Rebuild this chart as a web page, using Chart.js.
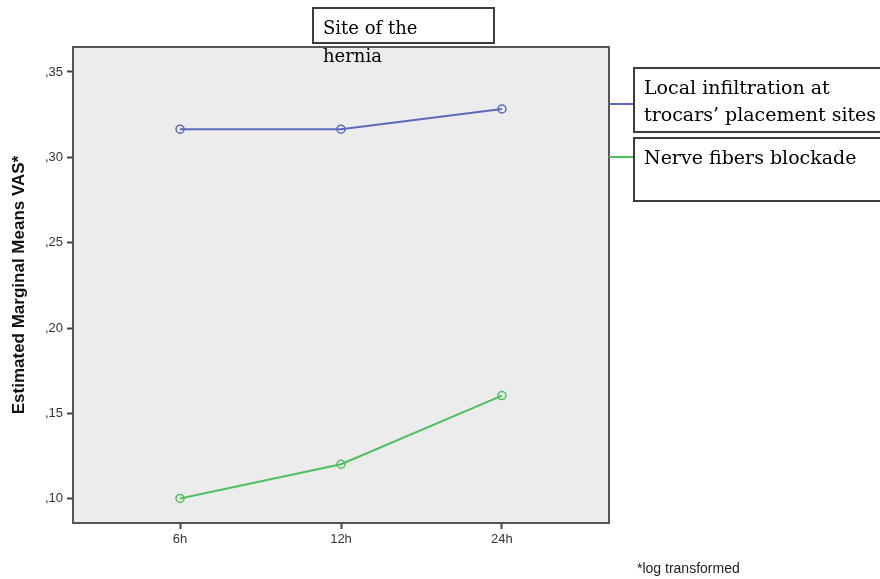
<!DOCTYPE html>
<html lang="en">
<head>
    <meta charset="UTF-8">
    <title>Estimated Marginal Means VAS</title>
    <script src="https://cdn.jsdelivr.net/npm/chart.js"></script>
    <style>
        body { margin: 0; background: #ffffff; }
        .wrap { position: relative; width: 880px; height: 579px; }
        .box {
            position: absolute;
            background: #ffffff;
            border: 2px solid #3c3c3c;
            box-sizing: border-box;
            font-family: "DejaVu Serif", "Liberation Serif", serif;
            font-size: 19px;
            line-height: 27px;
            color: #000;
        }
        .swatch { position: absolute; height: 2px; }
        .note {
            position: absolute;
            font-family: "Liberation Sans", Arial, sans-serif;
            font-size: 14px;
            color: #222;
        }
    </style>
</head>
<body>
<div class="wrap">
    <canvas id="vasChart" width="880" height="579"></canvas>

    <!-- title box, text runs out below the box like in the original -->
    <div class="box" style="left:312px; top:7px; width:183px; height:37px; padding:5px 0 0 9px; font-size:18px; line-height:28px; overflow:visible;">
        <span id="titleText"></span>
    </div>

    <!-- legend -->
    <div class="swatch" id="sw0" style="left:609px; top:103px; width:25px;"></div>
    <div class="swatch" id="sw1" style="left:609px; top:156px; width:25px;"></div>
    <div class="box" id="lg0" style="left:633px; top:67px; width:260px; height:66px; padding:5px 0 0 9px;"></div>
    <div class="box" id="lg1" style="left:633px; top:137px; width:260px; height:65px; padding:5px 0 0 9px;"></div>

    <div class="note" style="left:637px; top:560px;">*log transformed</div>
</div>

<script>
    // data
    const timeLabels = ['6h', '12h', '24h'];
    const seriesNames = ['Local infiltration at<br>trocars\u2019 placement sites', 'Nerve fibers blockade'];
    const localInfiltration = [0.3165, 0.3165, 0.3283];
    const nerveBlockade = [0.1003, 0.1203, 0.1605];
    const yTicks = [0.10, 0.15, 0.20, 0.25, 0.30, 0.35];
    const seriesColors = ['#5a69bd', '#4fbf5f'];

    document.getElementById('titleText').innerHTML = 'Site of the<br>hernia';
    document.getElementById('lg0').innerHTML = seriesNames[0];
    document.getElementById('lg1').innerHTML = seriesNames[1];
    document.getElementById('sw0').style.background = seriesColors[0];
    document.getElementById('sw1').style.background = seriesColors[1];

    function toPoints(vals) {
        return vals.map((v, i) => ({ x: i + 1, y: v }));
    }

    // grey plot background and frame
    const plotFrame = {
        id: 'plotFrame',
        beforeDatasetsDraw(chart) {
            const a = chart.chartArea;
            const ctx = chart.ctx;
            ctx.save();
            ctx.fillStyle = '#ececec';
            ctx.fillRect(a.left, a.top, a.right - a.left, a.bottom - a.top);
            ctx.restore();
        },
        afterDatasetsDraw(chart) {
            const a = chart.chartArea;
            const ctx = chart.ctx;
            ctx.save();
            ctx.strokeStyle = '#555';
            ctx.lineWidth = 2;
            ctx.strokeRect(a.left, a.top, a.right - a.left, a.bottom - a.top);
            ctx.restore();
        }
    };

    const tickFont = { family: '"Liberation Sans", Arial, sans-serif', size: 13 };

    new Chart(document.getElementById('vasChart'), {
        type: 'line',
        data: {
            datasets: [{
                label: 'Local infiltration',
                data: toPoints(localInfiltration),
                borderColor: seriesColors[0],
                backgroundColor: 'rgba(0,0,0,0)',
                borderWidth: 2,
                pointRadius: 4,
                pointBorderWidth: 1.5,
                pointBackgroundColor: 'rgba(0,0,0,0)',
                tension: 0
            }, {
                label: 'Nerve fibers blockade',
                data: toPoints(nerveBlockade),
                borderColor: seriesColors[1],
                backgroundColor: 'rgba(0,0,0,0)',
                borderWidth: 2,
                pointRadius: 4,
                pointBorderWidth: 1.5,
                pointBackgroundColor: 'rgba(0,0,0,0)',
                tension: 0
            }]
        },
        options: {
            responsive: false,
            animation: false,
            layout: { padding: { top: 47, right: 271, left: 0, bottom: 0 } },
            plugins: {
                legend: { display: false },
                tooltip: { enabled: false }
            },
            scales: {
                x: {
                    type: 'linear',
                    min: 0.335,
                    max: 3.665,
                    afterBuildTicks: s => { s.ticks = timeLabels.map((t, i) => ({ value: i + 1 })); },
                    afterFit: s => { s.height = 56; },
                    grid: { drawOnChartArea: false, tickLength: 6, tickColor: '#444', tickWidth: 2 },
                    border: { display: false },
                    ticks: {
                        color: '#333',
                        font: tickFont,
                        padding: 3,
                        callback: v => timeLabels[Math.round(v) - 1]
                    }
                },
                y: {
                    min: 0.0859,
                    max: 0.3646,
                    afterBuildTicks: s => { s.ticks = yTicks.map(v => ({ value: v })); },
                    afterFit: s => { s.width = 73; },
                    grid: { drawOnChartArea: false, tickLength: 6, tickColor: '#444', tickWidth: 2 },
                    border: { display: false },
                    ticks: {
                        color: '#333',
                        font: tickFont,
                        padding: 4,
                        callback: v => ',' + Math.round(v * 100)
                    },
                    title: {
                        display: true,
                        text: 'Estimated Marginal Means VAS*',
                        color: '#111',
                        font: { family: '"Liberation Sans", Arial, sans-serif', size: 17, weight: 'bold' },
                        padding: { top: 9, bottom: 0 }
                    }
                }
            }
        },
        plugins: [plotFrame]
    });
</script>
</body>
</html>
